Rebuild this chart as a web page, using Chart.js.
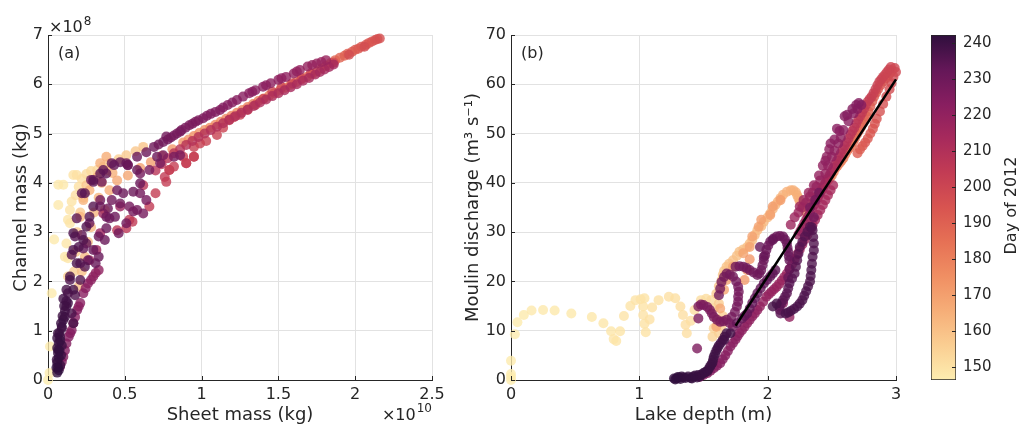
<!DOCTYPE html>
<html>
<head>
<meta charset="utf-8">
<title>Channel mass and moulin discharge, 2012</title>
<script src="https://cdn.jsdelivr.net/npm/chart.js@4.4.1/dist/chart.umd.min.js"></script>
<style>
  body { margin: 0; background: #fff; }
  .box { position: absolute; top: 0; height: 427px; }
  #boxA { left: 0; width: 450px; }
  #boxB { left: 450px; width: 470px; }
  #boxC { left: 920px; width: 99px; }
</style>
</head>
<body>
<div class="box" id="boxA"><canvas id="chartA"></canvas></div>
<div class="box" id="boxB"><canvas id="chartB"></canvas></div>
<div class="box" id="boxC"><canvas id="colorbar"></canvas></div>
<script>
// colour scale (day of 2012)
var dayRange = [146.3, 242.3];
var dayTicks = [150, 160, 170, 180, 190, 200, 210, 220, 230, 240];

// panel (a): [sheet mass (x1e10 kg), channel mass (x1e8 kg), day]
var aEarly = [
  [0.00, 0.00, 146.4], [0.01, 0.14, 146.6], [0.013, 0.68, 146.8], [0.024, 1.76, 147.0],
  [0.04, 2.85, 147.3], [0.067, 3.55, 147.6], [0.067, 3.96, 147.8], [0.10, 3.96, 148.0],
  [0.11, 2.50, 148.3], [0.13, 2.47, 148.5], [0.12, 2.77, 148.6], [0.13, 3.25, 148.9],
  [0.143, 3.45, 149.2], [0.154, 3.62, 149.5], [0.165, 4.16, 149.8], [0.187, 4.16, 150.1],
  [0.20, 3.92, 150.4], [0.18, 3.75, 150.7], [0.22, 4.08, 151.0], [0.25, 4.18, 151.5],
  [0.28, 4.24, 152.0], [0.32, 4.26, 153], [0.36, 4.33, 154], [0.40, 4.40, 155],
  [0.46, 4.48, 156], [0.51, 4.56, 157], [0.57, 4.64, 158], [0.62, 4.73, 159],
  [0.17, 2.20, 156], [0.18, 2.60, 156.5], [0.19, 3.00, 157], [0.21, 3.40, 157.5],
  [0.23, 3.70, 158], [0.25, 3.95, 158.5], [0.143, 3.18, 148.7], [0.13, 2.10, 155.5]
];
var aFill = [
  [0.20, 1.90, 160], [0.22, 2.20, 160.5], [0.24, 2.50, 161], [0.26, 2.80, 161.5],
  [0.28, 3.10, 162], [0.30, 3.40, 162.5], [0.33, 3.70, 163], [0.35, 4.00, 163.5],
  [0.38, 4.25, 164], [0.42, 4.20, 165], [0.40, 3.85, 165.5], [0.37, 3.45, 166],
  [0.21, 3.31, 163.2], [0.27, 3.85, 164.2], [0.32, 4.12, 164.6], [0.34, 4.40, 165.2],
  [0.38, 4.53, 166.2], [0.23, 3.65, 163.8],
  [0.45, 4.05, 167], [0.52, 4.15, 168], [0.60, 4.30, 169], [0.67, 4.42, 170],
  [0.74, 4.55, 171], [0.81, 4.68, 172], [0.88, 4.82, 173], [0.95, 4.95, 174],
  [1.02, 5.07, 175], [1.09, 5.18, 176], [1.16, 5.30, 177], [1.23, 5.42, 178],
  [1.30, 5.54, 179], [1.37, 5.66, 180], [1.44, 5.77, 181], [1.51, 5.88, 182],
  [1.58, 5.99, 183], [1.65, 6.10, 184], [1.72, 6.21, 185], [1.78, 6.32, 186],
  [1.84, 6.43, 187.5], [1.90, 6.54, 189], [1.95, 6.62, 190.5], [2.00, 6.70, 192],
  [2.04, 6.76, 193], [2.09, 6.84, 194], [2.13, 6.90, 195], [2.16, 6.93, 196],
  [0.915, 4.88, 173.5], [0.985, 5.01, 174.5], [1.055, 5.12, 175.5], [1.125, 5.24, 176.5],
  [1.195, 5.36, 177.5], [1.265, 5.48, 178.5], [1.335, 5.60, 179.5], [1.405, 5.71, 180.5],
  [1.475, 5.82, 181.5], [1.545, 5.93, 182.5], [1.615, 6.04, 183.5], [1.685, 6.15, 184.5],
  [1.75, 6.26, 185.5], [1.81, 6.37, 186.5], [1.87, 6.49, 188.2], [1.93, 6.58, 189.8],
  [1.98, 6.66, 191.2], [2.02, 6.72, 192.5], [2.07, 6.80, 193.5], [2.11, 6.87, 194.5],
  [2.145, 6.92, 195.5]
];
var aFall = [
  [2.06, 6.76, 197], [1.96, 6.60, 197.5], [1.86, 6.44, 198], [1.71, 6.22, 198.5],
  [1.59, 6.02, 199], [1.46, 5.85, 199.5], [1.35, 5.58, 200], [1.25, 5.38, 200.5],
  [1.18, 5.27, 201], [1.10, 4.97, 201.5], [0.95, 4.73, 202], [0.88, 4.53, 202.5],
  [0.82, 4.33, 203], [0.77, 4.02, 203.5], [0.70, 3.79, 204], [0.76, 4.12, 204.2],
  [0.66, 3.52, 204.5], [0.55, 3.21, 205], [0.53, 3.25, 205.5], [0.51, 3.08, 206],
  [1.65, 6.12, 198.7], [1.52, 5.94, 199.2], [1.40, 5.70, 199.8], [1.30, 5.48, 200.2],
  [1.21, 5.33, 200.8], [1.14, 5.12, 201.2], [1.03, 4.85, 201.8], [0.99, 4.80, 202.2],
  [0.79, 4.26, 203.2], [0.90, 4.40, 202.8], [0.95, 4.53, 202.4], [0.45, 3.04, 206.5],
  [0.62, 3.95, 207], [0.70, 4.25, 207.5], [0.78, 4.50, 208], [0.86, 4.68, 208.5],
  [0.94, 4.85, 209], [1.02, 5.00, 209.5], [1.10, 5.14, 210], [1.18, 5.28, 210.5],
  [1.26, 5.42, 211], [1.34, 5.56, 211.5], [1.42, 5.69, 212], [1.50, 5.82, 212.5],
  [1.58, 5.94, 213], [1.66, 6.07, 213.5], [1.74, 6.20, 214], [1.80, 6.30, 214.5],
  [1.86, 6.40, 215],
  [0.74, 4.38, 207.8], [0.82, 4.60, 208.3], [0.90, 4.77, 208.8], [0.98, 4.93, 209.3],
  [1.06, 5.07, 209.8], [1.14, 5.21, 210.3], [1.22, 5.35, 210.8], [1.30, 5.49, 211.3],
  [1.38, 5.63, 211.8], [1.46, 5.76, 212.3], [1.54, 5.88, 212.8], [1.62, 6.00, 213.3],
  [1.70, 6.13, 213.8], [1.77, 6.25, 214.3], [1.83, 6.35, 214.8],
  [0.27, 2.43, 215.5], [0.315, 2.64, 216], [0.34, 2.98, 216.5], [0.36, 3.38, 217],
  [0.47, 3.52, 217.5]
];
var aTop = [
  [1.81, 6.49, 218], [1.75, 6.42, 218.5], [1.69, 6.36, 219], [1.64, 6.29, 219.5],
  [1.60, 6.22, 220], [1.55, 6.15, 220.5], [1.50, 6.09, 221], [1.45, 6.02, 221.5],
  [1.40, 5.95, 222], [1.35, 5.88, 222.5], [1.31, 5.82, 223], [1.27, 5.75, 223.5],
  [1.23, 5.68, 224], [1.17, 5.58, 224.5], [1.12, 5.48, 225], [1.06, 5.40, 225.5],
  [1.01, 5.31, 226], [0.96, 5.24, 226.5], [0.92, 5.17, 227], [0.87, 5.07, 227.5],
  [0.84, 5.00, 228], [0.80, 4.92, 228.5], [0.77, 4.94, 229], [0.75, 4.83, 229.5],
  [0.69, 4.73, 230], [0.71, 4.53, 230.5], [0.64, 4.62, 231], [0.58, 4.53, 231.5],
  [0.52, 4.36, 232], [0.47, 4.42, 232.5], [0.43, 4.36, 233], [0.38, 4.19, 233.5],
  [0.34, 4.19, 234], [0.295, 4.06, 234.5], [0.24, 3.79, 235],
  [1.78, 6.45, 218.2], [1.72, 6.39, 218.8], [1.62, 6.26, 219.8], [1.52, 6.12, 220.8],
  [1.42, 5.98, 221.8], [1.33, 5.85, 222.8], [1.20, 5.63, 224.2], [1.14, 5.53, 224.8],
  [1.09, 5.44, 225.2], [1.035, 5.36, 225.8], [0.98, 5.27, 226.2], [0.94, 5.20, 226.8],
  [0.895, 5.12, 227.2], [0.86, 5.04, 227.8], [0.82, 4.96, 228.2], [0.78, 4.88, 228.8],
  [0.72, 4.78, 229.8]
];
var aLate = [
  [0.078, 0.27, 226], [0.10, 0.47, 225.5], [0.12, 0.74, 225], [0.135, 0.88, 224.7],
  [0.154, 1.01, 224.4], [0.176, 1.28, 223.6], [0.19, 1.42, 223.2], [0.21, 1.56, 222.8],
  [0.23, 1.76, 222.4], [0.26, 1.96, 222], [0.295, 2.10, 221.5], [0.33, 2.23, 221],
  [0.09, 0.37, 225.8], [0.11, 0.60, 225.2], [0.145, 0.95, 224.5], [0.165, 1.15, 224.1],
  [0.20, 1.49, 223], [0.245, 1.86, 222.2], [0.28, 2.03, 221.8], [0.31, 2.17, 221.2],
  [0.165, 1.15, 238], [0.154, 1.35, 237.5], [0.13, 1.76, 237], [0.143, 2.03, 236.5],
  [0.176, 1.72, 236.3], [0.21, 2.03, 236], [0.24, 2.30, 235.5], [0.21, 2.37, 235.2],
  [0.154, 2.54, 235], [0.176, 2.91, 234.7], [0.187, 3.28, 234], [0.22, 2.94, 233.5],
  [0.23, 2.67, 233.3], [0.25, 2.77, 233], [0.26, 2.43, 232.8], [0.295, 2.64, 232.3],
  [0.31, 2.37, 232], [0.33, 2.50, 231.6], [0.33, 2.91, 231.4], [0.27, 3.18, 231.2],
  [0.34, 3.52, 231], [0.38, 3.31, 230.8], [0.39, 3.48, 230.6], [0.40, 3.28, 230.4],
  [0.28, 4.06, 230.2], [0.35, 4.02, 230], [0.46, 2.98, 229.8], [0.51, 3.18, 229.4],
  [0.47, 3.58, 229], [0.58, 3.45, 228.8], [0.60, 3.79, 228.6], [0.60, 4.19, 228.4],
  [0.52, 4.36, 228.2], [0.75, 4.56, 228],
  [0.22, 3.79, 234.2], [0.295, 4.02, 233.8], [0.36, 4.26, 233.2], [0.415, 4.40, 232.6],
  [0.51, 4.40, 232.2], [0.58, 4.26, 231.8], [0.60, 3.99, 231.4], [0.555, 3.82, 231],
  [0.49, 3.79, 230.6], [0.45, 3.85, 230.2], [0.415, 3.65, 229.8], [0.34, 3.65, 229.4],
  [0.295, 3.52, 235.4], [0.27, 3.31, 235.6], [0.25, 3.11, 235.8], [0.23, 2.84, 236.1],
  [0.20, 2.70, 236.4], [0.165, 2.98, 236.7], [0.165, 2.64, 237], [0.187, 2.37, 237.3],
  [0.143, 2.10, 237.6], [0.12, 1.83, 237.9], [0.165, 1.83, 238.2], [0.13, 1.56, 238.5],
  [0.11, 1.28, 238.8], [0.09, 1.08, 239.1], [0.078, 0.88, 239.4], [0.067, 0.61, 239.7],
  [0.057, 0.41, 240], [0.37, 2.84, 231.5], [0.38, 3.08, 231.2], [0.436, 3.31, 230.9],
  [0.53, 3.52, 228.5], [0.64, 3.65, 228.3], [0.62, 3.38, 228.1], [0.555, 3.42, 227.9],
  [0.66, 4.26, 227.7], [0.73, 4.40, 227.5], [0.82, 4.53, 227.3], [0.86, 4.56, 227.1],
  [0.79, 4.26, 203.3], [0.90, 4.40, 203], [0.95, 4.53, 202.6],
  [0.06, 0.15, 242], [0.065, 0.25, 241.8], [0.06, 0.35, 241.6], [0.07, 0.45, 241.4],
  [0.065, 0.55, 241.2], [0.06, 0.65, 241], [0.07, 0.75, 240.8], [0.06, 0.85, 240.6],
  [0.08, 0.30, 240.4], [0.085, 0.50, 240.2], [0.09, 0.70, 240], [0.075, 0.95, 239.8],
  [0.09, 1.05, 239.6], [0.10, 1.22, 239.4], [0.11, 1.40, 239.2], [0.12, 1.49, 239],
  [0.12, 1.60, 238.8], [0.055, 0.25, 241.9], [0.07, 0.20, 241.7], [0.075, 0.60, 241.3],
  [0.08, 0.80, 240.9], [0.065, 0.95, 240.5], [0.085, 1.15, 240.1], [0.095, 1.30, 239.7],
  [0.105, 1.50, 239.3], [0.10, 1.65, 238.9]
];

// panel (b): [lake depth (m), moulin discharge (m3/s), day]
var bEarly = [
  [0.00, 0.0, 146.5], [0.00, 0.6, 146.6], [0.00, 1.2, 146.7], [0.00, 3.9, 146.8],
  [0.03, 9.3, 146.9], [0.05, 11.7, 147], [0.10, 13.2, 147.2], [0.16, 14.1, 147.4],
  [0.25, 14.2, 147.6], [0.34, 14.1, 147.8], [0.47, 13.5, 148], [0.63, 12.8, 148.3],
  [0.72, 11.5, 148.5], [0.78, 9.9, 148.6], [0.80, 8.3, 148.7], [0.82, 7.9, 148.8],
  [0.85, 9.9, 148.9], [0.88, 13.0, 149], [0.93, 15.0, 149.1], [0.97, 16.2, 149.2],
  [1.01, 16.4, 149.3], [1.04, 16.6, 149.4], [1.03, 14.9, 149.5], [1.03, 13.2, 149.6],
  [1.04, 11.4, 149.7], [1.05, 9.7, 149.8], [1.08, 12.3, 149.9], [1.10, 14.7, 150],
  [1.15, 16.2, 150.1], [1.23, 16.9, 150.3], [1.28, 16.6, 150.4], [1.32, 14.9, 150.5],
  [1.34, 13.2, 150.6], [1.36, 11.2, 150.7], [1.37, 9.5, 150.8], [1.40, 12.0, 150.9],
  [1.43, 14.2, 151], [1.48, 16.2, 151.2], [1.52, 16.5, 151.4],
  [1.56, 16.2, 152.5], [1.58, 14.5, 153], [1.60, 12.5, 153.5], [1.58, 10.5, 154],
  [1.57, 8.8, 154.5], [1.62, 9.5, 155], [1.64, 11.0, 155.5], [1.65, 13.0, 156],
  [1.62, 15.5, 156.5], [1.60, 17.5, 157]
];
var bFill = [
  [1.62, 19.0, 158], [1.65, 21.3, 158.5], [1.68, 23.0, 159], [1.73, 24.3, 159.5],
  [1.78, 26.0, 160], [1.84, 27.0, 160.5], [1.88, 28.4, 161], [1.92, 30.4, 161.5],
  [1.97, 32.1, 162], [2.02, 33.8, 162.5], [2.06, 35.5, 163], [2.10, 36.9, 163.5],
  [2.15, 38.2, 164], [2.20, 38.5, 164.5], [2.23, 37.5, 165], [2.25, 36.2, 165.5],
  [2.28, 35.2, 166],
  [1.64, 20.2, 158.3], [1.66, 22.1, 158.8], [1.70, 23.6, 159.3], [1.76, 25.2, 159.8],
  [1.81, 26.5, 160.3], [1.86, 27.7, 160.8], [1.90, 29.4, 161.3], [1.95, 31.2, 161.8],
  [2.00, 33.0, 162.3], [2.04, 34.7, 162.8], [2.08, 36.2, 163.3], [2.12, 37.6, 163.8],
  [2.18, 38.5, 164.3], [2.22, 38.1, 164.8], [2.24, 36.9, 165.3], [2.27, 35.7, 165.8],
  [1.60, 10.8, 167], [1.63, 14.5, 167.3], [1.66, 18.3, 167.6], [1.68, 20.3, 168],
  [1.73, 23.0, 168.3], [1.81, 25.7, 168.6], [1.86, 27.0, 169], [1.88, 29.1, 169.3],
  [1.93, 31.1, 169.6], [1.95, 32.5, 170], [2.02, 33.5, 170.3], [2.04, 35.2, 170.6],
  [2.10, 36.5, 171], [1.82, 20.3, 171.3], [1.84, 22.3, 171.6], [1.86, 24.5, 172],
  [2.30, 34.0, 172.5], [2.34, 35.5, 173.5], [2.38, 37.0, 174.5], [2.41, 38.0, 175.5],
  [2.44, 39.5, 176.5], [2.47, 40.5, 177.5], [2.50, 41.5, 178.5], [2.53, 43.0, 179.5],
  [2.56, 44.0, 180.5], [2.59, 45.0, 181.5], [2.62, 46.5, 182.5], [2.65, 47.5, 183.5],
  [2.68, 49.0, 184.5], [2.71, 50.5, 186], [2.74, 52.0, 187.5], [2.77, 53.5, 189],
  [2.80, 55.5, 190.5], [2.83, 57.5, 192], [2.86, 59.0, 193.5], [2.90, 60.5, 195],
  [2.94, 61.8, 196.5], [2.97, 62.8, 198], [2.99, 63.3, 199],
  [2.32, 34.8, 173], [2.36, 36.2, 174], [2.395, 37.5, 175], [2.425, 38.8, 176],
  [2.455, 40.0, 177], [2.485, 41.0, 178], [2.515, 42.2, 179], [2.545, 43.5, 180],
  [2.575, 44.5, 181], [2.605, 45.8, 182], [2.635, 47.0, 183], [2.665, 48.2, 184],
  [2.695, 49.8, 185.3], [2.725, 51.2, 186.8], [2.755, 52.8, 188.3], [2.785, 54.5, 189.8],
  [2.815, 56.5, 191.3], [2.845, 58.3, 192.8], [2.88, 59.8, 194.3], [2.92, 61.2, 195.8],
  [2.955, 62.3, 197.3],
  [2.70, 46.0, 191], [2.74, 47.5, 192], [2.78, 49.0, 193], [2.82, 51.0, 194],
  [2.85, 53.0, 195], [2.90, 56.0, 196], [2.95, 59.0, 197], [2.98, 61.5, 198],
  [2.72, 46.8, 191.5], [2.76, 48.2, 192.5], [2.80, 50.0, 193.5], [2.835, 52.0, 194.5],
  [2.875, 54.5, 195.5], [2.925, 57.5, 196.5], [2.965, 60.2, 197.5], [3.00, 62.5, 198.5]
];
var bFall = [
  [2.96, 63.5, 199.5], [2.93, 62.5, 200], [2.90, 61.5, 200.5], [2.87, 60.5, 201],
  [2.84, 59.0, 201.5], [2.81, 57.5, 202], [2.78, 56.5, 203], [2.75, 55.0, 204],
  [2.72, 53.5, 205], [2.69, 52.0, 206], [2.66, 50.5, 207], [2.63, 49.0, 208],
  [2.60, 47.5, 209], [2.57, 46.0, 210], [2.54, 44.5, 211], [2.51, 43.0, 212],
  [2.48, 41.5, 213], [2.45, 40.0, 214], [2.42, 38.5, 214.5], [2.39, 37.0, 215],
  [2.36, 35.5, 215.5], [2.33, 34.0, 216], [2.30, 32.5, 216.5], [2.27, 31.0, 217],
  [2.24, 29.5, 217.5],
  [2.945, 63.0, 199.8], [2.915, 62.0, 200.3], [2.885, 61.0, 200.8], [2.855, 59.8, 201.3],
  [2.825, 58.2, 201.8], [2.795, 57.0, 202.5], [2.765, 55.8, 203.5], [2.735, 54.2, 204.5],
  [2.705, 52.8, 205.5], [2.675, 51.2, 206.5], [2.645, 49.8, 207.5], [2.615, 48.2, 208.5],
  [2.585, 46.8, 209.5], [2.555, 45.2, 210.5], [2.525, 43.8, 211.5], [2.495, 42.2, 212.5],
  [2.465, 40.8, 213.5], [2.435, 39.2, 214.2], [2.405, 37.8, 214.8], [2.375, 36.2, 215.2],
  [2.345, 34.8, 215.8], [2.315, 33.2, 216.2], [2.285, 31.8, 216.8], [2.255, 30.2, 217.2],
  [2.51, 39.5, 213], [2.47, 37.5, 213.5], [2.43, 35.5, 214], [2.39, 33.5, 214.5],
  [2.35, 31.5, 215], [2.31, 29.5, 215.5], [2.27, 27.5, 216], [2.23, 25.5, 216.5],
  [2.19, 23.5, 217], [2.15, 21.6, 217.5], [2.11, 20.2, 218], [2.07, 18.9, 218.5],
  [2.03, 17.9, 219], [1.99, 16.9, 219.5], [1.94, 14.9, 220], [1.90, 13.5, 220.5],
  [1.86, 12.2, 221], [1.82, 10.8, 221.5], [1.78, 9.5, 222], [1.75, 8.2, 222.5],
  [1.71, 6.8, 223], [1.67, 5.0, 223.5], [1.63, 3.4, 224], [1.58, 2.4, 224.5],
  [1.53, 1.4, 225], [1.47, 0.6, 225.5], [2.17, 12.8, 220], [2.12, 15.6, 221],
  [2.49, 38.5, 213.2], [2.45, 36.5, 213.8], [2.41, 34.5, 214.2], [2.37, 32.5, 214.8],
  [2.33, 30.5, 215.2], [2.29, 28.5, 215.8], [2.25, 26.5, 216.2], [2.21, 24.5, 216.8],
  [2.17, 22.5, 217.2], [2.13, 20.9, 217.8], [2.09, 19.5, 218.2], [2.05, 18.4, 218.8],
  [2.01, 17.4, 219.2], [1.965, 15.9, 219.8], [1.92, 14.2, 220.2], [1.88, 12.9, 220.8],
  [1.84, 11.5, 221.2], [1.80, 10.1, 221.8], [1.765, 8.9, 222.2], [1.73, 7.5, 222.8],
  [1.69, 5.9, 223.2], [1.65, 4.2, 223.8], [1.605, 2.9, 224.2], [1.555, 1.9, 224.8],
  [1.50, 1.0, 225.2]
];
var bTop = [
  [2.24, 34.0, 217], [2.27, 35.0, 217.2], [2.30, 36.0, 217.4], [2.33, 37.2, 217.6],
  [2.35, 38.0, 217.8], [2.38, 39.2, 218], [2.41, 40.5, 218.5], [2.45, 41.9, 219],
  [2.47, 43.5, 219.5], [2.50, 45.3, 220], [2.52, 46.5, 220.5], [2.55, 48.0, 221],
  [2.57, 49.2, 221.5], [2.59, 50.7, 222], [2.63, 52.5, 222.5], [2.67, 54.1, 223],
  [2.70, 55.0, 223.5], [2.73, 55.8, 224], [2.43, 43.5, 220], [2.46, 45.3, 221],
  [2.49, 48.0, 222], [2.54, 51.0, 223], [2.60, 53.5, 224.5],
  [2.62, 53.8, 224.2], [2.66, 55.0, 224.4], [2.69, 55.8, 224.6], [2.71, 56.2, 224.8],
  [2.56, 50.5, 222.8], [2.52, 48.8, 222.2], [2.48, 46.8, 221.5], [2.45, 44.5, 220.8],
  [2.40, 41.5, 219.5], [2.36, 39.5, 218.8], [2.32, 38.0, 218.2], [2.28, 36.5, 217.6],
  [2.25, 35.2, 217.3], [2.21, 33.0, 217.1], [2.18, 31.5, 217]
];
var bLate = [
  [1.45, 6.4, 226], [1.46, 12.5, 226.2], [1.46, 14.9, 226.4], [1.50, 15.2, 226.6],
  [1.55, 14.2, 226.8], [1.58, 12.8, 227], [1.63, 11.8, 227.2], [1.68, 12.2, 227.4],
  [1.73, 10.8, 227.6], [1.72, 12.8, 227.8], [1.76, 14.9, 228], [1.77, 16.9, 228.2],
  [1.77, 18.9, 228.4], [1.73, 21.0, 228.6], [1.68, 21.6, 228.8], [1.64, 19.9, 229],
  [1.62, 17.2, 229.2], [2.33, 35.0, 228], [2.37, 36.5, 228.5], [2.40, 38.0, 229],
  [2.36, 33.0, 229.5],
  [1.48, 15.3, 226.5], [1.53, 14.8, 226.7], [1.565, 13.5, 226.9], [1.605, 12.2, 227.1],
  [1.655, 11.9, 227.3], [1.705, 11.5, 227.5], [1.745, 13.8, 227.9], [1.77, 15.9, 228.1],
  [1.775, 17.9, 228.3], [1.755, 20.0, 228.5], [1.705, 21.4, 228.7], [1.66, 20.9, 228.9],
  [1.63, 18.5, 229.1],
  [1.75, 23.0, 229.4], [1.81, 23.0, 229.6], [1.86, 22.3, 229.8], [1.92, 21.3, 230],
  [1.95, 22.3, 230.2], [1.97, 24.3, 230.4], [1.99, 26.4, 230.6], [2.02, 28.1, 230.8],
  [2.07, 29.1, 231], [2.12, 29.1, 231.2], [2.15, 27.7, 231.4], [2.16, 26.0, 231.6],
  [2.17, 24.3, 231.8], [1.94, 27.0, 232], [1.97, 25.0, 232.2], [2.04, 28.4, 232.4],
  [1.78, 23.1, 229.5], [1.835, 22.7, 229.7], [1.89, 21.8, 229.9], [1.935, 21.6, 230.1],
  [1.96, 23.3, 230.3], [1.98, 25.3, 230.5], [2.005, 27.3, 230.7], [2.045, 28.7, 230.9],
  [2.095, 29.2, 231.1], [2.135, 28.5, 231.3], [2.155, 26.8, 231.5], [2.165, 25.1, 231.7],
  [2.17, 22.5, 231.9], [2.16, 20.8, 232],
  [1.80, 12.5, 232.6], [1.84, 13.5, 232.8], [1.88, 15.6, 233], [1.92, 17.6, 233.2],
  [1.97, 19.6, 233.4], [2.02, 21.0, 233.6], [2.06, 22.3, 233.8],
  [1.76, 11.5, 232.5], [1.82, 13.0, 232.7], [1.86, 14.5, 232.9], [1.90, 16.6, 233.1],
  [1.945, 18.6, 233.3], [1.995, 20.3, 233.5], [2.04, 21.6, 233.7],
  [2.10, 13.5, 234], [2.09, 14.9, 234.2], [2.12, 16.2, 234.4], [2.15, 17.6, 234.6],
  [2.17, 19.6, 234.8], [2.21, 21.6, 235], [2.23, 24.3, 235.2], [2.25, 27.0, 235.4],
  [2.29, 29.1, 235.6], [2.33, 31.1, 235.8], [2.35, 30.4, 236], [2.36, 27.7, 236.2],
  [2.35, 25.0, 236.4], [2.34, 22.3, 236.6], [2.33, 20.0, 236.8], [2.30, 18.0, 237],
  [2.27, 16.2, 237.2], [2.23, 14.9, 237.4], [2.18, 14.0, 237.6], [2.14, 13.5, 237.8],
  [2.04, 14.9, 238], [2.07, 15.5, 238.1],
  [2.095, 14.2, 234.1], [2.105, 15.5, 234.3], [2.135, 16.9, 234.5], [2.16, 18.6, 234.7],
  [2.19, 20.6, 234.9], [2.22, 23.0, 235.1], [2.24, 25.6, 235.3], [2.27, 28.0, 235.5],
  [2.31, 30.1, 235.7], [2.345, 31.0, 235.9], [2.355, 29.0, 236.1], [2.36, 26.3, 236.3],
  [2.345, 23.6, 236.5], [2.335, 21.1, 236.7], [2.315, 19.0, 236.9], [2.285, 17.1, 237.1],
  [2.25, 15.5, 237.3], [2.205, 14.4, 237.5], [2.16, 13.7, 237.7],
  [1.27, 0.3, 242], [1.29, 0.3, 241.8], [1.31, 0.5, 241.6], [1.33, 0.7, 241.4],
  [1.36, 0.4, 241.2], [1.40, 0.4, 241], [1.42, 0.7, 240.8], [1.45, 0.5, 240.6],
  [1.47, 0.7, 240.4], [1.50, 1.4, 240.2], [1.53, 1.8, 240], [1.55, 2.7, 239.8],
  [1.57, 3.5, 239.6], [1.58, 4.7, 239.4], [1.60, 6.0, 239.2], [1.62, 7.0, 239],
  [1.65, 8.1, 238.8], [1.68, 9.5, 238.6], [1.71, 9.5, 238.4], [1.66, 8.1, 238.2],
  [1.28, 0.1, 241.9], [1.30, 0.6, 241.7], [1.32, 0.2, 241.5], [1.345, 0.5, 241.3],
  [1.38, 0.7, 241.1], [1.41, 0.3, 240.9], [1.435, 0.9, 240.7], [1.46, 1.0, 240.5],
  [1.485, 1.1, 240.3], [1.515, 1.6, 240.1], [1.54, 2.2, 239.9], [1.56, 3.1, 239.7],
  [1.575, 4.1, 239.5], [1.59, 5.3, 239.3], [1.61, 6.5, 239.1], [1.635, 7.5, 238.9],
  [1.665, 8.8, 238.7]
];
// black fit line in (b)
var fitLine = [[1.75, 11.0], [3.0, 61.0]];

var ink = '#262626';
var gridColor = '#e2e2e2';
Chart.defaults.font.family = "'DejaVu Sans', sans-serif";
Chart.defaults.color = ink;

// cmocean "matter" like colour map, light -> dark
var matter = [[253,237,176],[250,206,146],[246,174,120],[240,143,99],[230,113,85],
  [216,84,80],[195,60,84],[167,42,92],[136,30,96],[100,23,88],[47,15,61]];

function dayColor(day, alpha) {
  var t = (day - dayRange[0]) / (dayRange[1] - dayRange[0]);
  t = Math.min(1, Math.max(0, t)) * (matter.length - 1);
  var i = Math.min(Math.floor(t), matter.length - 2), f = t - i;
  var c = matter[i].map(function (v, k) { return Math.round(v + (matter[i + 1][k] - v) * f); });
  return 'rgba(' + c[0] + ',' + c[1] + ',' + c[2] + ',' + alpha + ')';
}

function byDay(list) {
  return list.slice().sort(function (p, q) { return p[2] - q[2]; });
}

function scatterSet(points) {
  return {
    data: points.map(function (p) { return { x: p[0], y: p[1] }; }),
    pointBackgroundColor: points.map(function (p) { return dayColor(p[2], 0.8); }),
    pointBorderWidth: 0,
    pointRadius: 5,
    pointHoverRadius: 5,
    clip: false,
    order: 1
  };
}

// inward tick marks + extra labels
var extras = {
  id: 'extras',
  afterDraw: function (chart, args, opts) {
    var ctx = chart.ctx, area = chart.chartArea;
    ctx.save();
    ctx.strokeStyle = ink;
    ctx.lineWidth = 1;
    (opts.tickAxes || []).forEach(function (id) {
      var s = chart.scales[id];
      s.ticks.forEach(function (t) {
        var p = Math.round(s.getPixelForValue(t.value)) + 0.5;
        ctx.beginPath();
        if (s.isHorizontal()) { ctx.moveTo(p, s.top); ctx.lineTo(p, s.top - 4); }
        else if (s.position === 'left') { ctx.moveTo(s.right, p); ctx.lineTo(s.right + 4, p); }
        else { ctx.moveTo(s.left, p); ctx.lineTo(s.left - 4, p); }
        ctx.stroke();
      });
    });
    ctx.fillStyle = ink;
    ctx.textBaseline = 'alphabetic';
    var fam = "'DejaVu Sans', sans-serif";
    if (opts.panel) {
      ctx.font = '16px ' + fam;
      ctx.textAlign = 'left';
      ctx.fillText(opts.panel, area.left + 10, area.top + 23);
    }
    if (opts.yExp) {
      ctx.textAlign = 'left';
      ctx.font = '16px ' + fam;
      ctx.fillText('\u00d710', area.left + 1, area.top - 3);
      var w = ctx.measureText('\u00d710').width;
      ctx.font = '12px ' + fam;
      ctx.fillText(opts.yExp, area.left + 2 + w, area.top - 10);
    }
    if (opts.xExp) {
      ctx.textAlign = 'right';
      ctx.font = '12px ' + fam;
      ctx.fillText(opts.xExp, area.right, area.bottom + 32);
      var w2 = ctx.measureText(opts.xExp).width;
      ctx.font = '16px ' + fam;
      ctx.fillText('\u00d710', area.right - w2 - 1, area.bottom + 40);
    }
    if (opts.sideTitle) {
      ctx.translate(chart.width - 3, (area.top + area.bottom) / 2 - 2);
      ctx.rotate(-Math.PI / 2);
      ctx.textAlign = 'center';
      ctx.font = '16px ' + fam;
      ctx.fillText(opts.sideTitle, 0, 0);
    }
    ctx.restore();
  }
};

function axis(min, max, step, title, fit, titlePad) {
  return {
    type: 'linear', min: min, max: max,
    ticks: { stepSize: step, padding: 5, font: { size: 16 }, callback: function (v) { return String(v); } },
    grid: { color: gridColor, drawTicks: false },
    border: { color: ink, width: 1 },
    title: { display: true, text: title, font: { size: 18 }, padding: titlePad },
    afterFit: fit
  };
}

function baseOptions(pad, xAxis, yAxis, extra) {
  return {
    responsive: true,
    maintainAspectRatio: false,
    animation: false,
    events: [],
    layout: { padding: pad },
    plugins: { legend: { display: false }, tooltip: { enabled: false }, extras: extra },
    scales: { x: xAxis, y: yAxis }
  };
}

var pointsA = byDay([].concat(aEarly, aFill, aFall, aTop, aLate));
new Chart(document.getElementById('chartA'), {
  type: 'scatter',
  data: { datasets: [scatterSet(pointsA)] },
  options: baseOptions({ left: 0, top: 35, right: 18, bottom: 0 },
    axis(0, 2.5, 0.5, 'Sheet mass (kg)', function (s) { s.height = 47; }, { top: 0, bottom: 1 }),
    axis(0, 7, 1, 'Channel mass (kg)', function (s) { s.width = 48; }, { top: 11, bottom: 0 }),
    { tickAxes: ['x', 'y'], panel: '(a)', yExp: '8', xExp: '10' }),
  plugins: [extras]
});

var pointsB = byDay([].concat(bEarly, bFill, bFall, bTop, bLate));
new Chart(document.getElementById('chartB'), {
  type: 'scatter',
  data: {
    datasets: [{
      data: fitLine.map(function (p) { return { x: p[0], y: p[1] }; }),
      showLine: true, borderColor: '#000', borderWidth: 2.5,
      pointRadius: 0, pointHoverRadius: 0, clip: false, order: 0
    }, scatterSet(pointsB)]
  },
  options: baseOptions({ left: 0, top: 35, right: 24, bottom: 0 },
    axis(0, 3, 1, 'Lake depth (m)', function (s) { s.height = 47; }, { top: 0, bottom: 1 }),
    axis(0, 70, 10, 'Moulin discharge (m\u00b3 s\u207b\u00b9)', function (s) { s.width = 61; }, { top: 13, bottom: 0 }),
    { tickAxes: ['x', 'y'], panel: '(b)' }),
  plugins: [extras]
});

function barGradient(c) {
  var chart = c.chart;
  if (!chart.chartArea) return null;
  var y = chart.scales.y;
  var g = chart.ctx.createLinearGradient(0, y.getPixelForValue(dayRange[0]), 0, y.getPixelForValue(dayRange[1]));
  matter.forEach(function (col, i) { g.addColorStop(i / (matter.length - 1), 'rgb(' + col.join(',') + ')'); });
  return g;
}

new Chart(document.getElementById('colorbar'), {
  type: 'bar',
  data: {
    labels: ['day'],
    datasets: [{
      data: [dayRange],
      backgroundColor: barGradient,
      borderColor: ink, borderWidth: 1, borderSkipped: false,
      barPercentage: 1, categoryPercentage: 1
    }]
  },
  options: {
    responsive: true,
    maintainAspectRatio: false,
    animation: false,
    events: [],
    layout: { padding: { left: 11, top: 35, right: 0, bottom: 47 } },
    plugins: { legend: { display: false }, tooltip: { enabled: false },
      extras: { tickAxes: ['y'], sideTitle: 'Day of 2012' } },
    scales: {
      x: { display: false },
      y: {
        position: 'right', min: dayRange[0], max: dayRange[1],
        afterBuildTicks: function (s) { s.ticks = dayTicks.map(function (v) { return { value: v }; }); },
        ticks: { padding: 7, font: { size: 15 } },
        grid: { display: false, drawTicks: false },
        border: { display: false },
        afterFit: function (s) { s.width = 63; }
      }
    }
  },
  plugins: [extras]
});
</script>
</body>
</html>
